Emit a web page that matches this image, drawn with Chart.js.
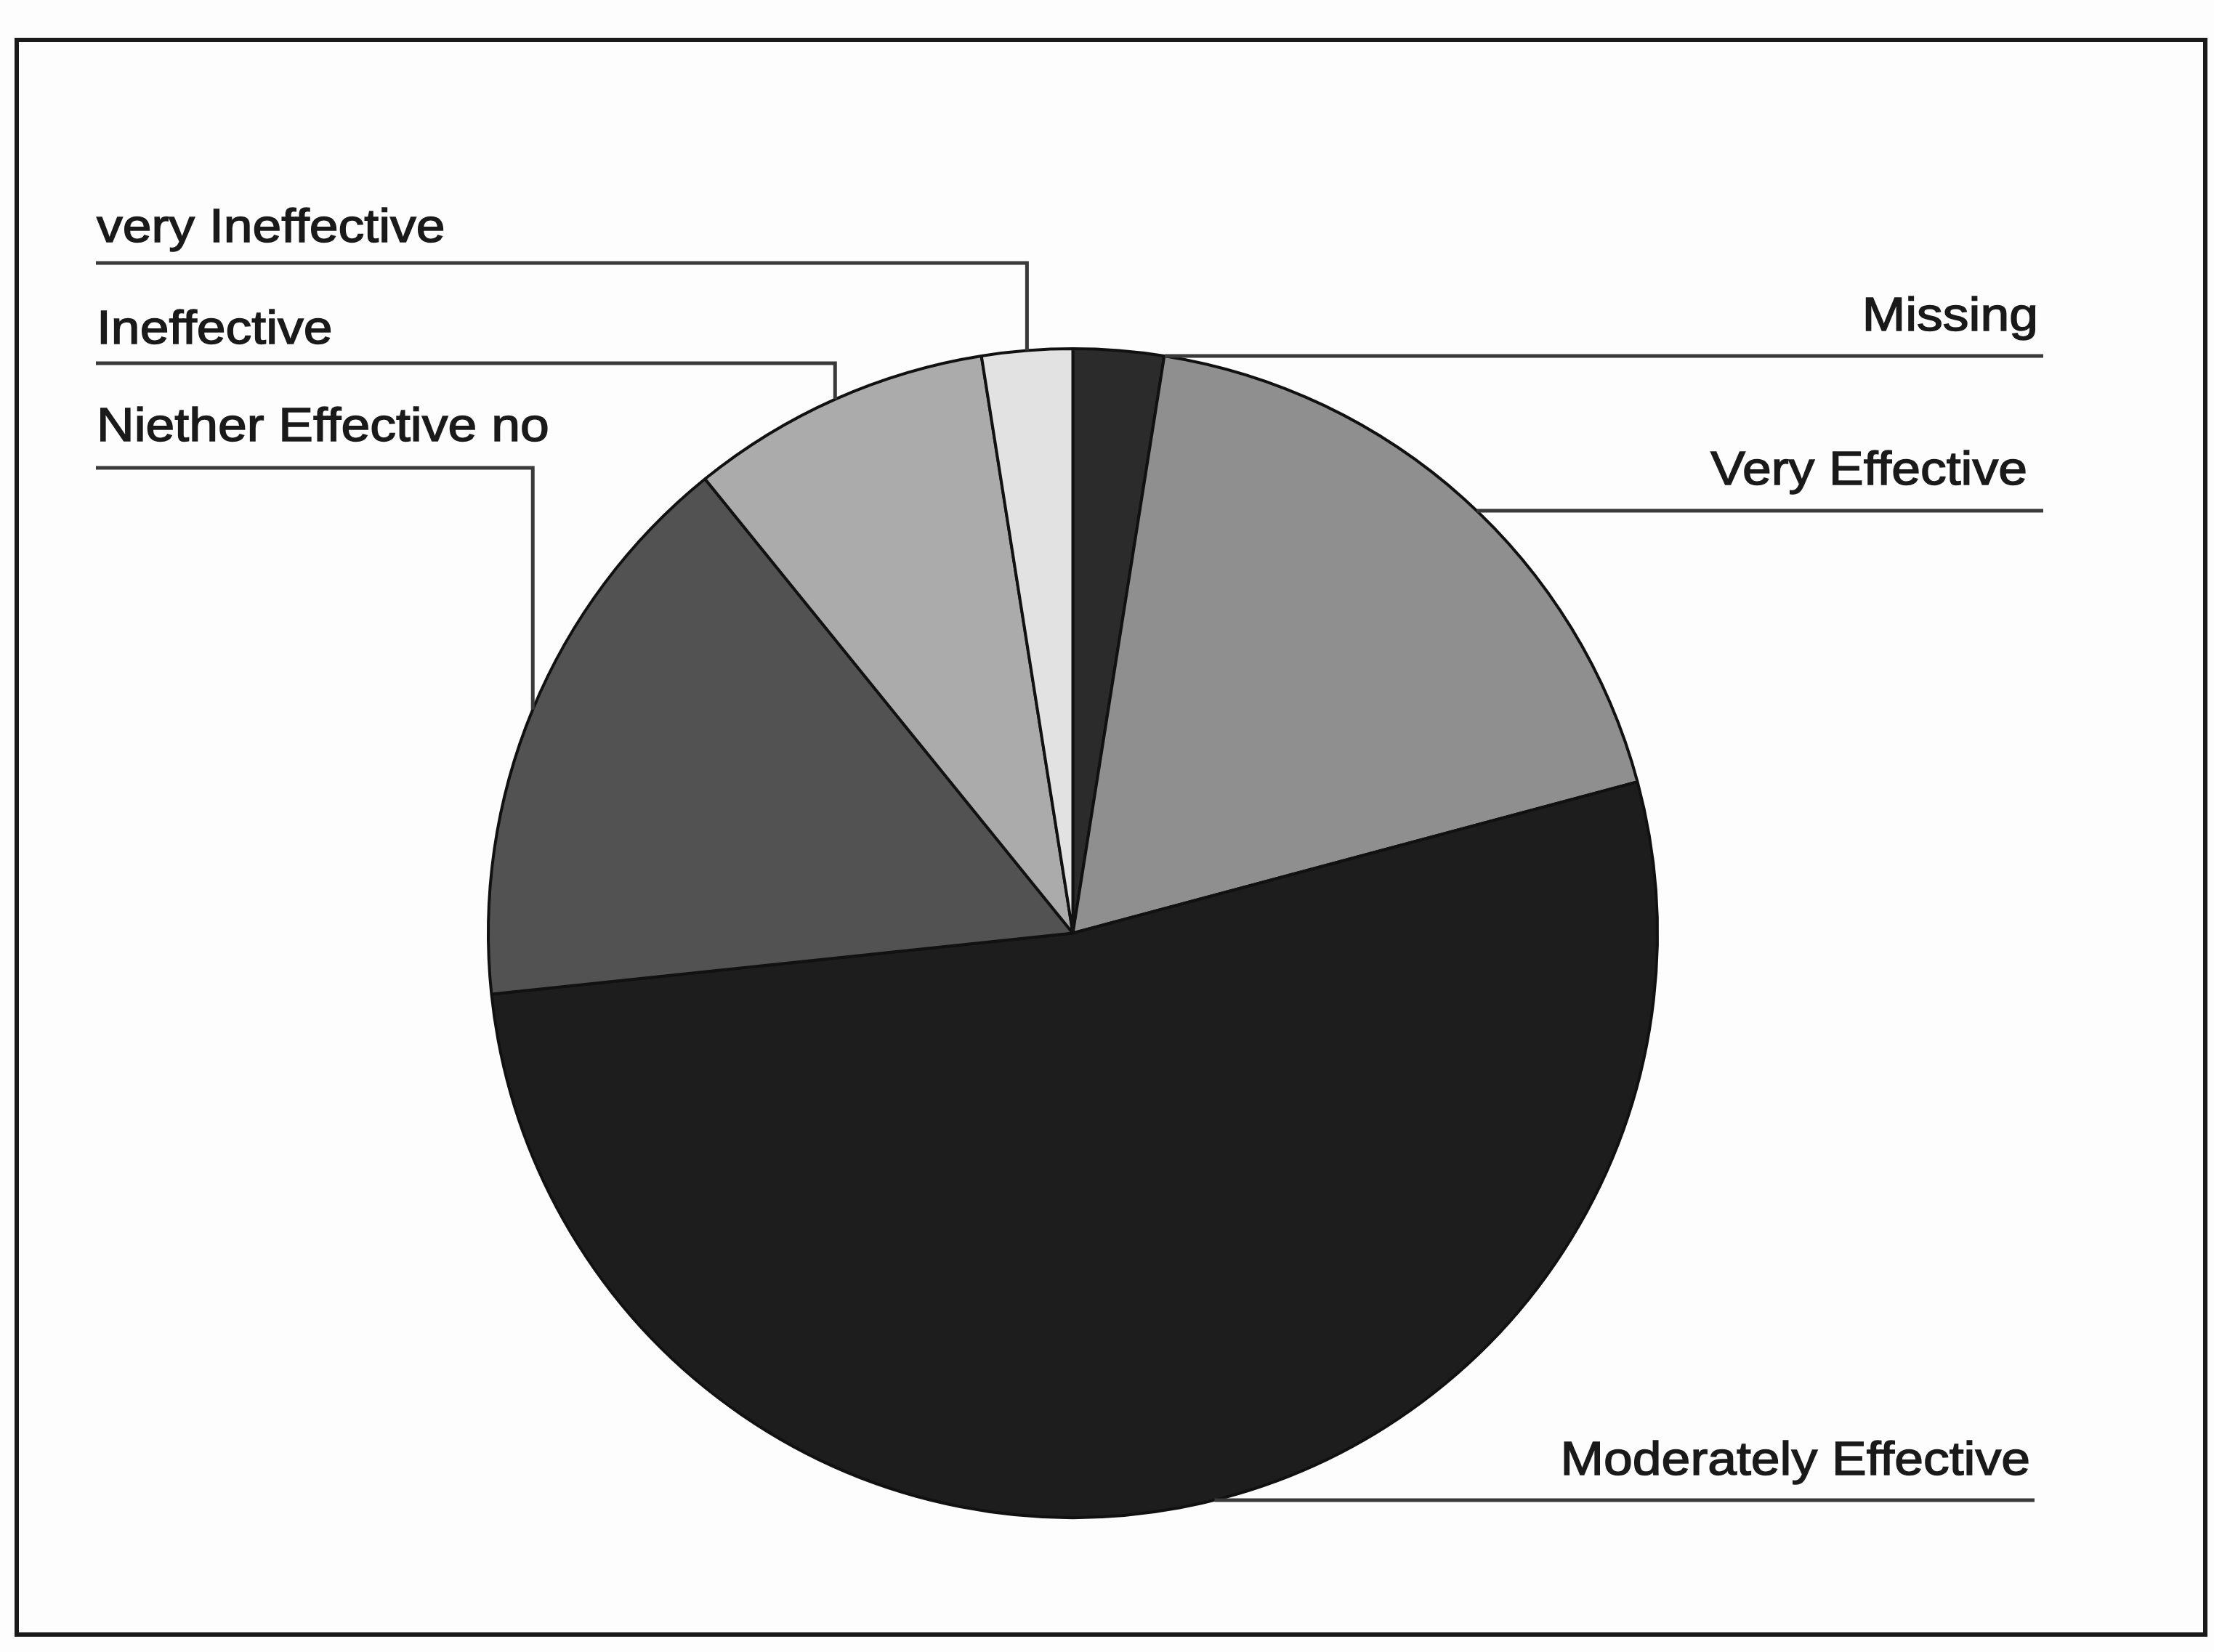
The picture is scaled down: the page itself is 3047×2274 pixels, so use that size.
<!DOCTYPE html>
<html>
<head>
<meta charset="utf-8">
<script src="https://cdn.jsdelivr.net/npm/chart.js@4.4.0/dist/chart.umd.min.js"></script>
<style>
  html, body { margin: 0; padding: 0; background: #fdfdfd; }
  #wrap { position: relative; width: 3047px; height: 2274px; }
  canvas { display: block; }
</style>
</head>
<body>
<div id="wrap"><canvas id="c" width="3047" height="2274"></canvas></div>
<script>
// ---- data (counts, clockwise from 12 o'clock) ----
const categories = ["Missing", "Very Effective", "Moderately Effective", "Niether Effective no", "Ineffective", "very Ineffective"];
const counts = [3, 22, 63, 19, 10, 3];
const sliceColors = ["#2b2b2b", "#8f8f8f", "#1d1d1d", "#525252", "#ababab", "#e2e2e2"];

// ---- label layout (annotation placement only) ----
const labelLayout = [
  { side: "right", lineY: 490,  lineEnd: 2812, textX: 2805, textY: 455 },
  { side: "right", lineY: 703,  lineEnd: 2812, textX: 2790, textY: 667 },
  { side: "right", lineY: 2065, lineEnd: 2800, textX: 2794, textY: 2030 },
  { side: "left",  lineY: 644,  lineEnd: 132,  textX: 133,  textY: 607 },
  { side: "left",  lineY: 500,  lineEnd: 132,  textX: 133,  textY: 473 },
  { side: "left",  lineY: 362,  lineEnd: 132,  textX: 133,  textY: 333 }
];

const framePlugin = {
  id: "frame",
  beforeDraw(chart) {
    const ctx = chart.ctx;
    ctx.save();
    ctx.fillStyle = "#fdfdfd";
    ctx.fillRect(0, 0, chart.width, chart.height);
    ctx.strokeStyle = "#1a1a1a";
    ctx.lineWidth = 6;
    ctx.strokeRect(23, 55, 3035 - 23, 2250 - 55);
    ctx.restore();
  }
};

const leaderPlugin = {
  id: "leaders",
  afterDatasetsDraw(chart) {
    const ctx = chart.ctx;
    const meta = chart.getDatasetMeta(0);
    ctx.save();
    ctx.font = '65px "Liberation Sans", Arial, sans-serif';
    ctx.textBaseline = "alphabetic";
    meta.data.forEach((arc, i) => {
      const L = labelLayout[i];
      const p = arc.getProps(["x", "y", "startAngle", "endAngle", "outerRadius"], true);
      const cx = p.x, cy = p.y, r = p.outerRadius;
      ctx.strokeStyle = "#3a3a3a";
      ctx.lineWidth = 5;
      ctx.beginPath();
      if (L.side === "right") {
        const dy = L.lineY - cy;
        const dx = Math.sqrt(Math.max(r * r - dy * dy, 0));
        ctx.moveTo(cx + dx, L.lineY);
        ctx.lineTo(L.lineEnd, L.lineY);
      } else {
        const mid = (p.startAngle + p.endAngle) / 2;
        const mx = cx + Math.cos(mid) * r;
        const ay = cy - Math.sqrt(Math.max(r * r - (mx - cx) * (mx - cx), 0));
        ctx.moveTo(mx, ay);
        ctx.lineTo(mx, L.lineY);
        ctx.lineTo(L.lineEnd, L.lineY);
      }
      ctx.stroke();
      // text, slightly widened and heavier like the scanned original
      ctx.save();
      ctx.translate(L.textX, L.textY);
      ctx.scale(1.1, 1);
      ctx.textAlign = L.side === "right" ? "right" : "left";
      ctx.fillStyle = "#1a1a1a";
      ctx.strokeStyle = "#1a1a1a";
      ctx.lineWidth = 1.5;
      ctx.fillText(categories[i], 0, 0);
      ctx.strokeText(categories[i], 0, 0);
      ctx.restore();
    });
    ctx.restore();
  }
};

new Chart(document.getElementById("c"), {
  type: "pie",
  data: {
    labels: categories,
    datasets: [{
      data: counts,
      backgroundColor: sliceColors,
      borderColor: "#111",
      borderWidth: 4
    }]
  },
  options: {
    responsive: false,
    animation: false,
    layout: { padding: { left: 669, top: 478, right: 763, bottom: 183 } },
    plugins: {
      legend: { display: false },
      tooltip: { enabled: false }
    }
  },
  plugins: [framePlugin, leaderPlugin]
});
</script>
</body>
</html>
